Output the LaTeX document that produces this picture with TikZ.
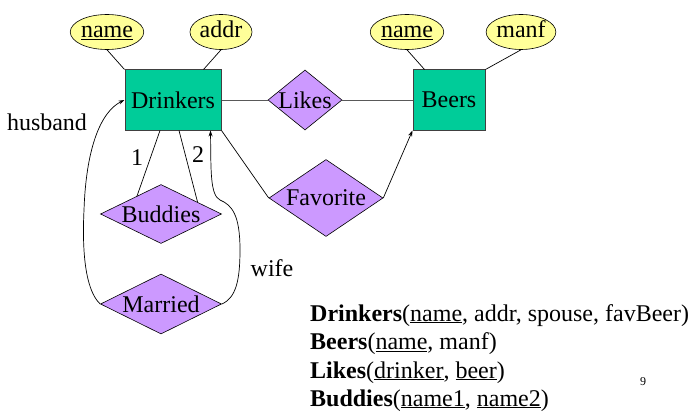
\documentclass[tikz,border=0pt]{standalone}
\usepackage{fontspec}
\setmainfont{Liberation Serif}
\usetikzlibrary{shapes.geometric,arrows.meta}
\definecolor{entfill}{HTML}{00CC99}
\definecolor{relfill}{HTML}{CC99FF}
\definecolor{attfill}{HTML}{FFFF99}
\definecolor{bordgray}{HTML}{404040}
\tikzset{
  ent/.style={rectangle, draw=bordgray, line width=1pt, fill=entfill, minimum width=96pt, minimum height=60pt, inner sep=0pt},
  rel/.style={diamond, draw=black, line width=0.6pt, fill=relfill, inner sep=0pt},
  att/.style={ellipse, draw=black, line width=0.6pt, fill=attfill, inner sep=0pt, minimum height=35pt, text height=16pt, text depth=5pt},
  conn/.style={draw=black, line width=0.7pt},
  arr/.style={conn, -{Stealth[length=6pt,width=4pt]}},
  lbl/.style={inner sep=0pt},
}
\begin{document}
\begin{tikzpicture}[x=1pt,y=-1pt,font=\fontsize{24}{28}\selectfont]
\useasboundingbox (0,0) rectangle (695,417);
% entities
\node[ent] (drk) at (173,100) {Drinkers};
\node[ent, minimum width=72pt] (brs) at (449,100) {Beers};
% attributes
\node[att, minimum width=59pt] (dname) at (107,32) {\underline{name}};
\node[att, minimum width=62pt] (addr) at (221,32) {addr};
\node[att, minimum width=60pt] (bname) at (407,32) {\underline{name}};
\node[att, minimum width=62pt] (manf) at (521,32) {manf};
% relationships
\node[rel, minimum width=74pt, minimum height=60pt] (likes) at (305,100) {\makebox[0pt]{Likes}};
\node[rel, minimum width=114pt, minimum height=77pt] (fav) at (326,198) {\makebox[0pt]{Favorite}};
\node[rel, minimum width=121pt, minimum height=59pt] (bud) at (161,214) {\makebox[0pt]{Buddies}};
\node[rel, minimum width=121pt, minimum height=60pt] (mar) at (161,304) {\makebox[0pt]{Married}};
% attribute links
\draw[conn] (dname.south) -- (drk.north west);
\draw[conn] (addr.south) -- ([xshift=-18pt]drk.north east);
\draw[conn] (bname.south) -- ([xshift=12pt]brs.north west);
\draw[conn] (manf.south) -- (brs.north east);
% relationship links
\draw[conn, draw=black!65] (drk.east) -- (likes.west);
\draw[conn, draw=black!65] (likes.east) -- (brs.west);
\draw[conn] (drk.south east) -- (fav.west);
\draw[arr] (fav.east) -- (brs.south west);
\draw[conn] (bud.143) -- ([xshift=-13pt]drk.south);
\draw[conn] (bud.18) -- ([xshift=6pt]drk.south);
% husband / wife
\draw[arr] (mar.west) .. controls (85,290) and (82,250) .. (84,210) .. controls (86,150) and (100,112) .. (drk.west);
\draw[arr] (mar.east) .. controls (236,298) and (240,280) .. (240,250) .. controls (240,215) and (232,205) .. (220,200) .. controls (210,195) and (211,170) .. ([xshift=-11pt]drk.south east);
% labels
\node[lbl] (lhus) at (47,122) {husband};
\node[lbl] (lwife) at (272,268) {wife};
\node[lbl] (lone) at (137,158) {1};
\node[lbl] (ltwo) at (198,155) {2};
% schema text
\node[lbl, anchor=base west] (s1) at (310,321) {\textbf{Drinkers}(\underline{name}, addr, spouse, favBeer)};
\node[lbl, anchor=base west] (s2) at (310,349.5) {\textbf{Beers}(\underline{name}, manf)};
\node[lbl, anchor=base west] (s3) at (310,378) {\textbf{Likes}(\underline{drinker}, \underline{beer})};
\node[lbl, anchor=base west] (s4) at (310,406) {\textbf{Buddies}(\underline{name1}, \underline{name2})};
\node[lbl, font=\fontsize{12}{14}\selectfont] (pg) at (643,382) {9};
\end{tikzpicture}
\end{document}
